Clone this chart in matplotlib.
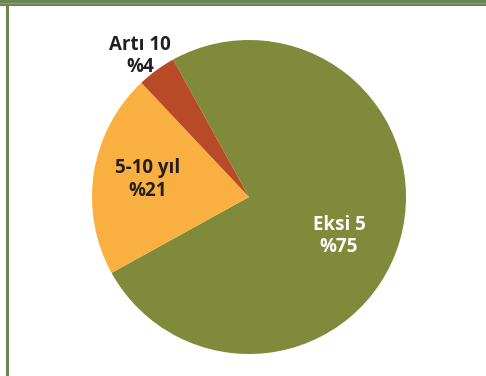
import matplotlib.pyplot as plt
from matplotlib.patches import Rectangle

# slice data
labels = ['Eksi 5', '5-10 yıl', 'Artı 10']
values = [75, 21, 4]
colors = ['#7f8b3a', '#f9b041', '#b94a28']
text_colors = ['white', '#231f20', '#231f20']
# label anchor points (pixel space, y up)
label_pos = [(339, 376 - 236), (148, 376 - 179), (140, 376 - 56)]

W, H = 486, 376
fig = plt.figure(figsize=(W / 100, H / 100), dpi=100)
ax = fig.add_axes([0, 0, 1, 1])

ax.pie(values, colors=colors, startangle=118.9, counterclock=False,
       center=(249, H - 197), radius=157, frame=True,
       wedgeprops=dict(linewidth=0))
ax.set_xlim(0, W)
ax.set_ylim(0, H)
ax.set_aspect('equal')
ax.axis('off')

for lab, v, (x, y), c in zip(labels, values, label_pos, text_colors):
    ax.text(x, y, '%s\n%%%d' % (lab, v), ha='center', va='center',
            color=c, fontsize=13.5, fontweight='bold', family='Open Sans',
            linespacing=1.2)

# frame: band along the top and a line down the left
ax.add_patch(Rectangle((0, H - 6), W, 6, color='#6e8450', lw=0))
ax.add_patch(Rectangle((0, H - 4), W, 1, color='#8da070', lw=0))
ax.add_patch(Rectangle((6, 0), 3, H - 6, color='#6e8450', lw=0))

fig.savefig('out.png', dpi=100)
